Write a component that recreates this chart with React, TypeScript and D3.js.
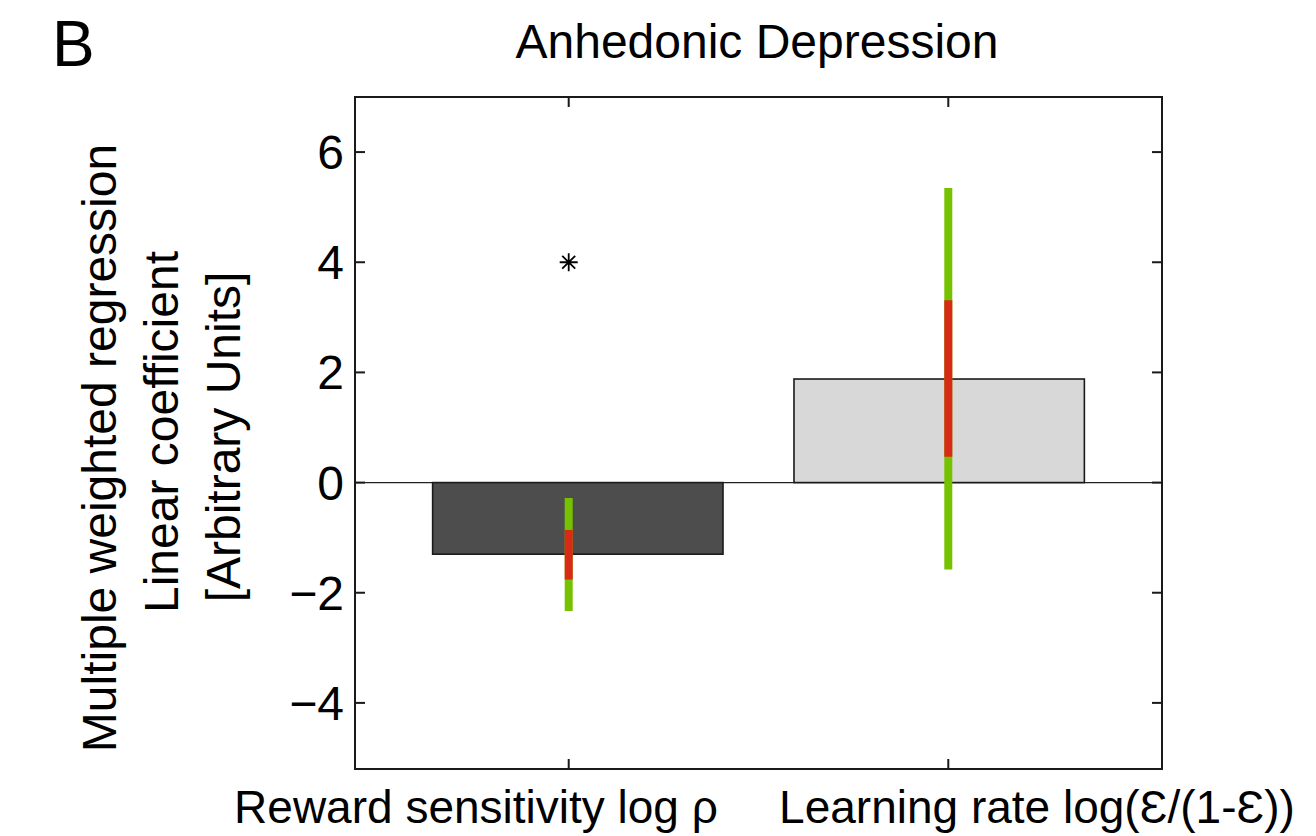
import React from "react";
import * as d3 from "d3";

const categories = ["Reward sensitivity log ρ", "Learning rate log(Ɛ/(1-Ɛ))"];
const categoryPositions = [1, 2];
const barPositions = [1.024, 1.976];
const barValues = [-1.3, 1.88];
const barFills = ["#4d4d4d", "#d8d8d8"];
const outerLow = [-2.33, -1.58];
const outerHigh = [-0.28, 5.35];
const innerLow = [-1.76, 0.47];
const innerHigh = [-0.86, 3.31];
const starPositions = [1];
const starValues = [4];
const yTicks = [-4, -2, 0, 2, 4, 6];
const labelCenters = [476, 1037];

const W = 1316;
const H = 836;
const font = "'Liberation Sans', Arial, Helvetica, sans-serif";

export default function App() {
  const left = 355, right = 1162, top = 97, bottom = 769;
  const x = d3.scaleLinear().domain([0.437, 2.563]).range([left, right]);
  const y = d3.scaleLinear().domain([-5.2, 7]).range([bottom, top]);
  const barW = 0.765;
  const tickLen = 10;
  const fmt = (v: number) => (v < 0 ? "\u2212" + Math.abs(v) : String(v));
  const starPath = (cx: number, cy: number, r: number) => {
    const d = r * 0.72;
    return `M${cx - r},${cy}L${cx + r},${cy}M${cx},${cy - r}L${cx},${cy + r}M${cx - d},${cy - d}L${cx + d},${cy + d}M${cx - d},${cy + d}L${cx + d},${cy - d}`;
  };

  return (
    <svg width={W} height={H} style={{ position: "absolute", left: 0, top: 0, background: "#fff" }} fontFamily={font}>
      <text x={52} y={66} fontSize={64} fill="#000">B</text>
      <text x={757} y={58} fontSize={48} textAnchor="middle" fill="#000">Anhedonic Depression</text>

      {/* zero line */}
      <line x1={left} x2={right} y1={y(0)} y2={y(0)} stroke="#222" strokeWidth={1.2} />

      {/* bars */}
      {barValues.map((v, i) => {
        const x0 = x(barPositions[i] - barW / 2);
        const x1 = x(barPositions[i] + barW / 2);
        const y0 = Math.min(y(0), y(v));
        const h = Math.abs(y(v) - y(0));
        return <rect key={i} x={x0} y={y0} width={x1 - x0} height={h} fill={barFills[i]} stroke="#1a1a1a" strokeWidth={1.6} />;
      })}

      {/* error bars */}
      {categoryPositions.map((c, i) => (
        <g key={"e" + i}>
          <line x1={x(c)} x2={x(c)} y1={y(outerLow[i])} y2={y(outerHigh[i])} stroke="#76c200" strokeWidth={8} />
          <line x1={x(c)} x2={x(c)} y1={y(innerLow[i])} y2={y(innerHigh[i])} stroke="#d82a17" strokeWidth={8} />
        </g>
      ))}

      {/* significance stars */}
      {starPositions.map((c, i) => (
        <path key={"s" + i} d={starPath(x(c), y(starValues[i]), 9)} stroke="#000" strokeWidth={1.8} fill="none" />
      ))}

      {/* frame */}
      <rect x={left} y={top} width={right - left} height={bottom - top} fill="none" stroke="#1a1a1a" strokeWidth={2} />

      {/* y ticks */}
      {yTicks.map((t) => (
        <g key={"y" + t}>
          <line x1={left} x2={left + tickLen} y1={y(t)} y2={y(t)} stroke="#1a1a1a" strokeWidth={2} />
          <line x1={right} x2={right - tickLen} y1={y(t)} y2={y(t)} stroke="#1a1a1a" strokeWidth={2} />
          <text x={left - 11} y={y(t) + 17} fontSize={48} textAnchor="end" fill="#000">{fmt(t)}</text>
        </g>
      ))}

      {/* x ticks */}
      {categoryPositions.map((c, i) => (
        <g key={"x" + i}>
          <line x1={x(c)} x2={x(c)} y1={bottom} y2={bottom - tickLen} stroke="#1a1a1a" strokeWidth={2} />
          <line x1={x(c)} x2={x(c)} y1={top} y2={top + tickLen} stroke="#1a1a1a" strokeWidth={2} />
          <text x={labelCenters[i]} y={823} fontSize={46} textAnchor="middle" fill="#000">{categories[i]}</text>
        </g>
      ))}

      {/* y label */}
      <g fontSize={48} fill="#000" textAnchor="middle">
        <text transform={`translate(116,448) rotate(-90)`}>Multiple weighted regression</text>
        <text transform={`translate(178,432) rotate(-90)`}>Linear coefficient</text>
        <text transform={`translate(240,437) rotate(-90)`}>[Arbitrary Units]</text>
      </g>
    </svg>
  );
}
